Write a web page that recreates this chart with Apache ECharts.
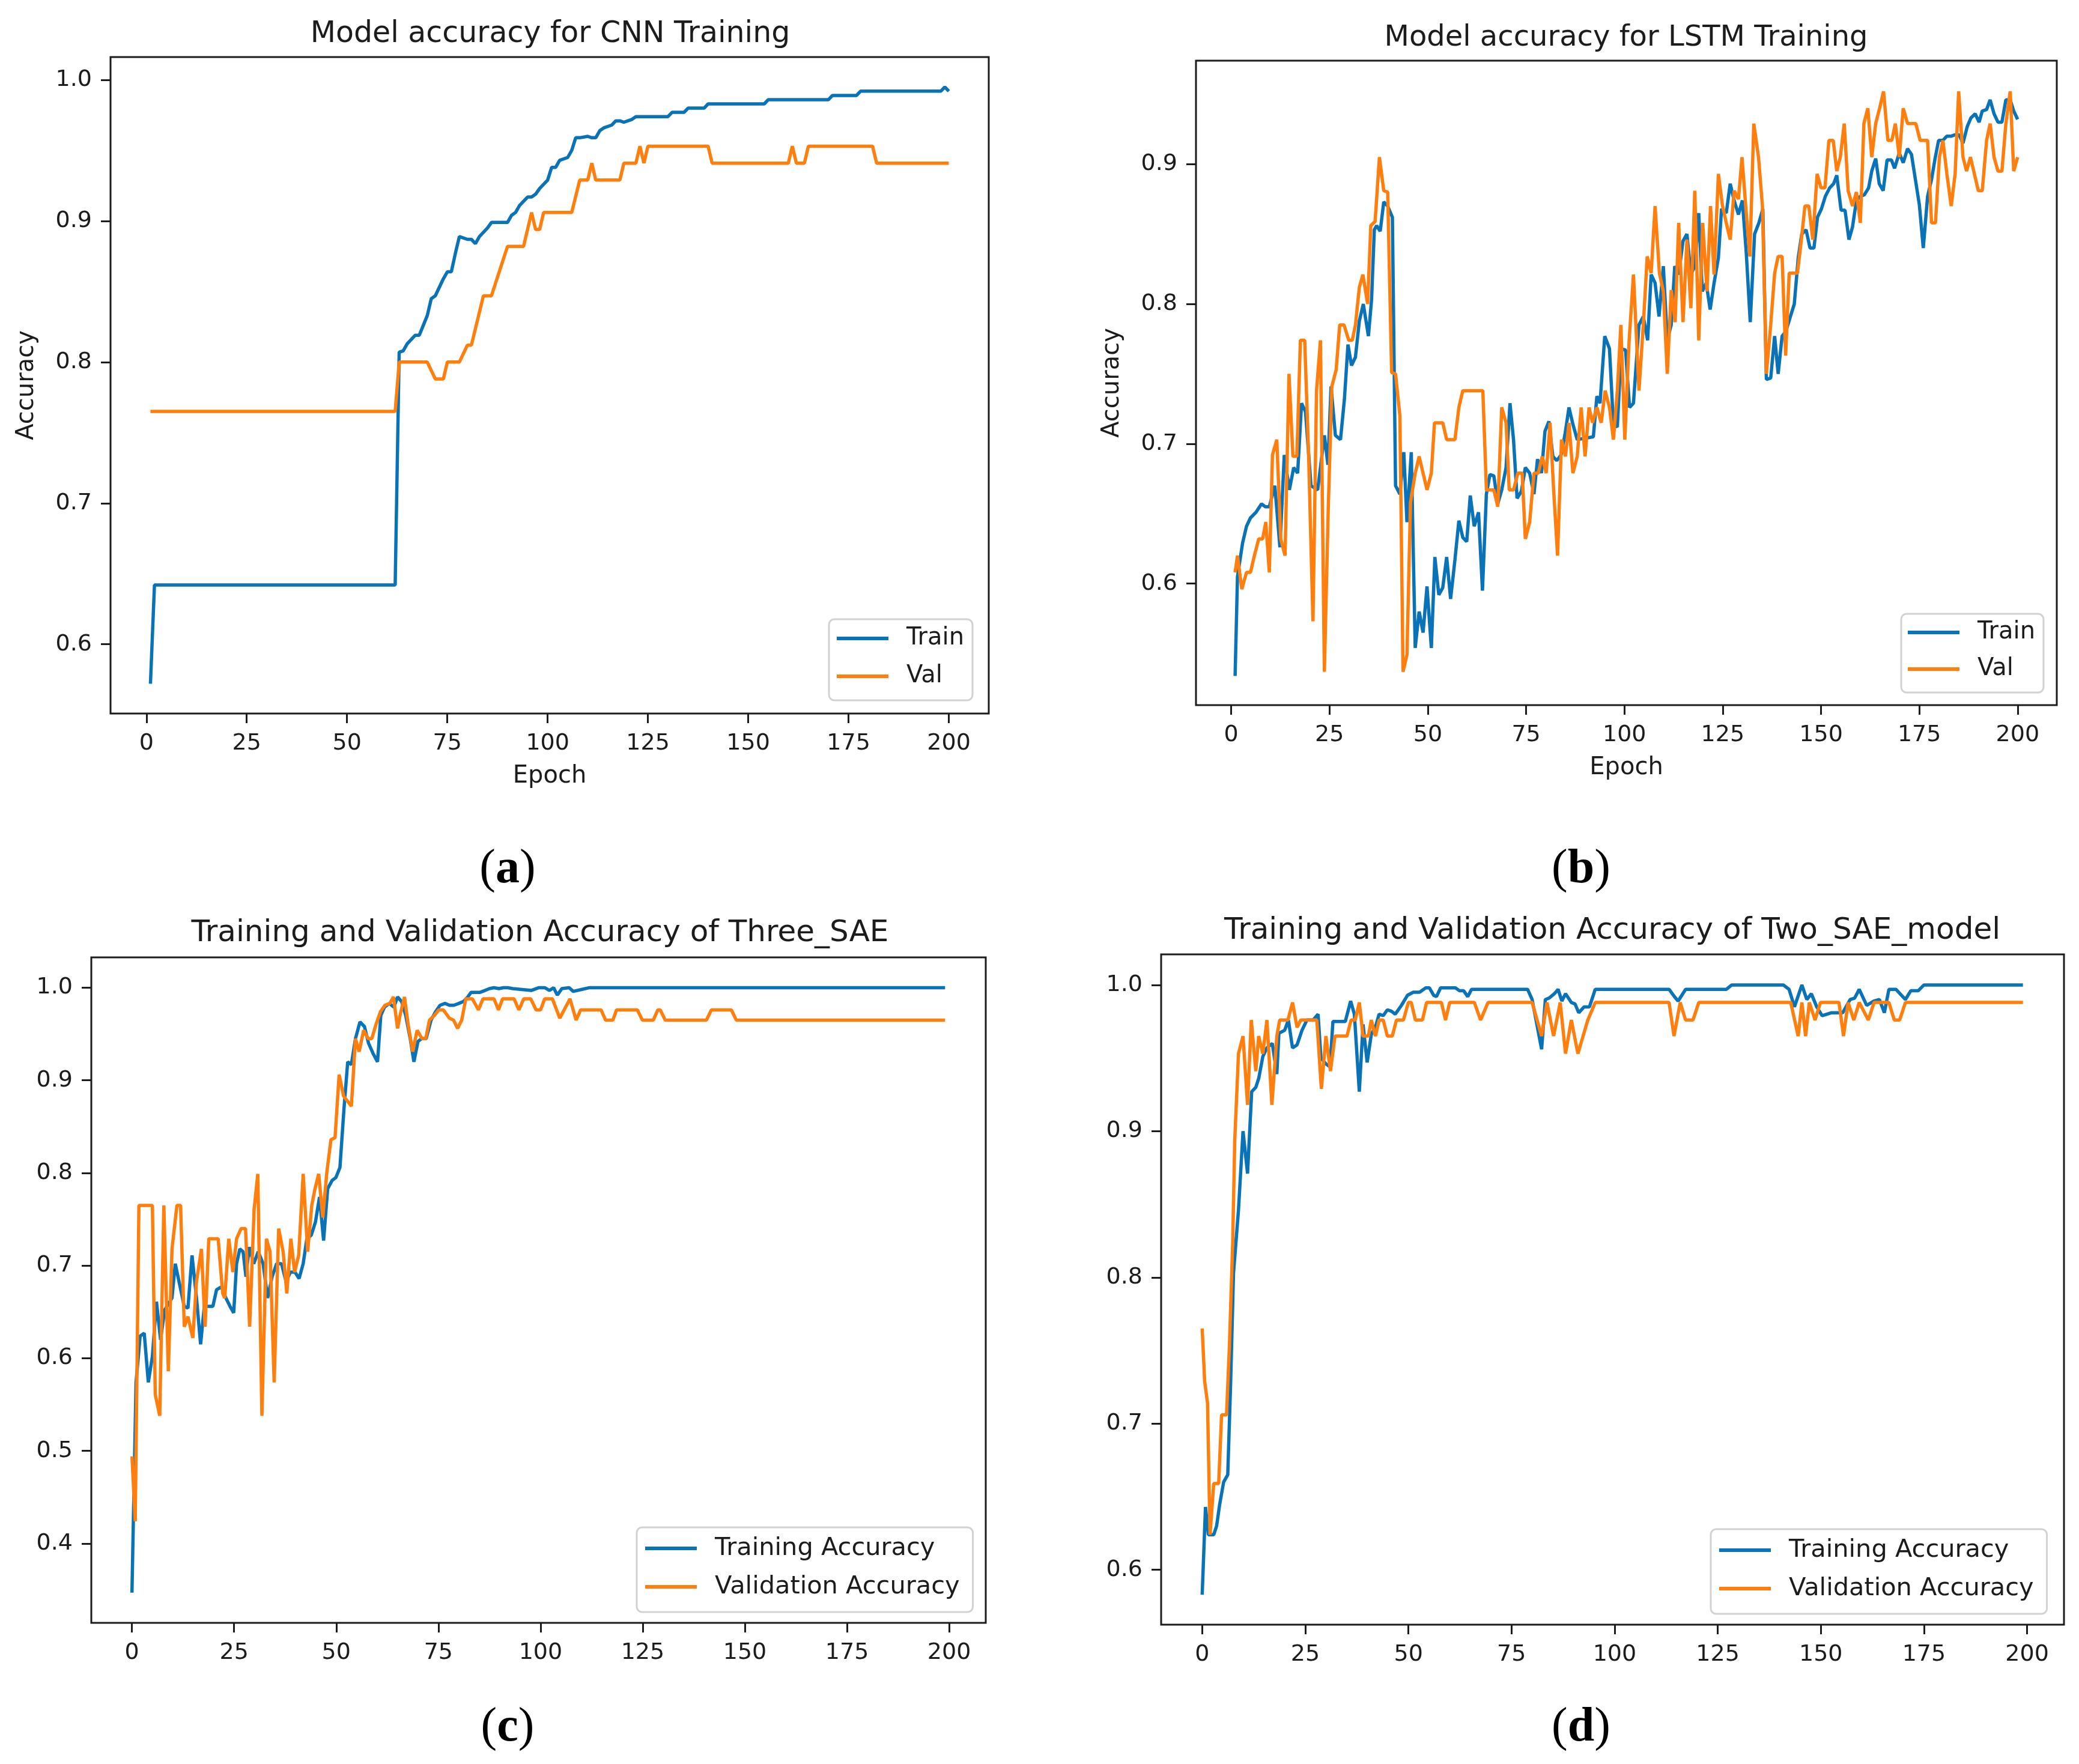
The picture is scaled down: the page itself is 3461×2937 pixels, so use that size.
<!DOCTYPE html>
<html><head><meta charset="utf-8">
<script src="https://cdn.jsdelivr.net/npm/echarts@6/dist/echarts.min.js"></script>
<style>html,body{margin:0;padding:0;background:#fff}#c{width:3461px;height:2937px}</style>
</head><body><div id="c"></div><script>
// ---------- tick labels ----------
const xTicks = [0,25,50,75,100,125,150,175,200];
const yTicksA = [0.6,0.7,0.8,0.9,1.0];
const yTicksB = [0.6,0.7,0.8,0.9];
const yTicksC = [0.4,0.5,0.6,0.7,0.8,0.9,1.0];
const yTicksD = [0.6,0.7,0.8,0.9,1.0];

// ---------- (a) CNN ----------
const cnnTrain = [[1,0.572],[2,0.642],[62,0.642],[63,0.807],[64,0.808],[65,0.813],[67,0.819],[68,0.819],[70,0.833],[71,0.845],[72,0.847],[74,0.859],[75,0.864],[76,0.864],[77,0.877],[78,0.889],[80,0.887],[81,0.887],[82,0.884],[83,0.889],[85,0.895],[86,0.899],[90,0.899],[91,0.904],[92,0.906],[93,0.911],[95,0.917],[96,0.917],[97,0.919],[98,0.923],[100,0.929],[101,0.938],[102,0.938],[103,0.943],[105,0.945],[106,0.950],[107,0.959],[108,0.959],[110,0.960],[111,0.959],[112,0.959],[113,0.964],[114,0.966],[116,0.968],[117,0.971],[118,0.971],[119,0.970],[121,0.972],[122,0.974],[130,0.974],[131,0.977],[134,0.977],[135,0.980],[139,0.980],[140,0.983],[154,0.983],[155,0.986],[170,0.986],[171,0.989],[177,0.989],[178,0.992],[198,0.992],[199,0.995],[200,0.992]];
const cnnVal = [[1,0.765],[62,0.765],[63,0.800],[70,0.800],[72,0.788],[74,0.788],[75,0.800],[78,0.800],[80,0.812],[81,0.812],[84,0.847],[86,0.847],[90,0.882],[94,0.882],[96,0.906],[97,0.894],[98,0.894],[99,0.906],[106,0.906],[108,0.929],[110,0.929],[111,0.941],[112,0.929],[118,0.929],[119,0.941],[122,0.941],[123,0.953],[124,0.941],[125,0.953],[140,0.953],[141,0.941],[160,0.941],[161,0.953],[162,0.941],[164,0.941],[165,0.953],[181,0.953],[182,0.941],[200,0.941]];

// ---------- (b) LSTM ----------
const lstmTrain = [[1,0.534],[1.6,0.605],[2.9,0.629],[3.9,0.641],[4.9,0.647],[6.3,0.651],[7.7,0.657],[8.7,0.655],[9.7,0.655],[11.1,0.670],[12.4,0.626],[13.5,0.692],[14.8,0.667],[15.9,0.683],[16.9,0.679],[17.9,0.729],[18.9,0.723],[20.3,0.670],[22.0,0.667],[23.7,0.706],[24.6,0.685],[25.4,0.741],[26.5,0.706],[27.8,0.703],[28.8,0.732],[29.7,0.771],[30.6,0.756],[31.6,0.762],[32.6,0.788],[33.6,0.800],[34.9,0.777],[35.7,0.803],[36.4,0.853],[37.0,0.856],[37.9,0.852],[38.8,0.873],[39.8,0.870],[41.0,0.862],[41.8,0.670],[42.9,0.664],[43.9,0.694],[44.7,0.644],[45.8,0.694],[46.8,0.554],[47.8,0.580],[48.8,0.565],[49.8,0.598],[50.9,0.554],[51.8,0.619],[52.8,0.592],[53.8,0.597],[54.8,0.619],[55.8,0.589],[56.9,0.617],[57.9,0.645],[58.9,0.633],[59.9,0.630],[60.8,0.663],[61.8,0.641],[62.9,0.651],[63.9,0.595],[64.9,0.664],[65.8,0.678],[66.8,0.677],[67.8,0.657],[68.8,0.667],[69.9,0.683],[70.9,0.729],[71.8,0.703],[72.7,0.661],[73.8,0.666],[74.8,0.683],[75.9,0.679],[77.0,0.664],[77.9,0.689],[78.9,0.679],[79.8,0.709],[80.8,0.716],[81.8,0.691],[82.8,0.688],[83.9,0.692],[84.9,0.707],[85.9,0.726],[86.9,0.714],[88.0,0.703],[92.1,0.705],[93.0,0.734],[93.8,0.729],[95.0,0.777],[96.2,0.768],[97.2,0.714],[98.2,0.712],[99.2,0.768],[100.3,0.767],[101.3,0.726],[102.3,0.729],[103.7,0.785],[104.8,0.791],[105.9,0.774],[106.8,0.821],[107.8,0.815],[108.8,0.791],[109.9,0.827],[110.9,0.774],[111.9,0.785],[112.8,0.827],[113.8,0.821],[114.9,0.845],[115.9,0.850],[116.9,0.821],[117.9,0.827],[118.9,0.865],[119.8,0.809],[120.8,0.815],[121.8,0.796],[122.8,0.815],[123.9,0.833],[124.7,0.868],[125.9,0.865],[126.9,0.886],[127.9,0.874],[129.0,0.864],[130.0,0.874],[131.0,0.836],[132.0,0.787],[133.1,0.850],[134.2,0.858],[135.2,0.868],[136.1,0.746],[137.2,0.747],[138.2,0.777],[139.1,0.750],[140.1,0.777],[141.0,0.780],[142.1,0.790],[143.2,0.800],[144.2,0.833],[145.1,0.850],[146.2,0.853],[147.2,0.840],[148.2,0.840],[149.1,0.862],[150.1,0.868],[151.1,0.877],[152.2,0.883],[153.2,0.886],[154.0,0.892],[155.1,0.867],[156.1,0.867],[157.1,0.846],[158.0,0.855],[159.0,0.874],[160.0,0.877],[161.0,0.878],[162.1,0.883],[162.9,0.895],[163.9,0.904],[164.8,0.886],[165.8,0.881],[166.8,0.903],[167.9,0.903],[168.7,0.897],[169.9,0.908],[170.9,0.901],[172.0,0.911],[173.0,0.907],[174.0,0.889],[175.0,0.871],[176.0,0.840],[177.1,0.877],[178.1,0.889],[179.0,0.904],[179.9,0.917],[181.0,0.917],[182.0,0.920],[183.1,0.920],[184.1,0.921],[185.1,0.921],[186.1,0.915],[187.2,0.927],[188.1,0.933],[189.2,0.936],[190.2,0.930],[191.0,0.938],[192.1,0.939],[193.0,0.946],[194.0,0.936],[195.0,0.930],[196.0,0.930],[197.0,0.946],[198.1,0.946],[199.0,0.938],[200,0.932]];
const lstmVal = [[1,0.608],[1.6,0.620],[2.7,0.596],[3.9,0.608],[4.9,0.608],[5.9,0.620],[7.0,0.632],[8.0,0.632],[8.8,0.644],[9.7,0.608],[10.5,0.692],[11.6,0.703],[12.6,0.632],[13.7,0.620],[14.7,0.750],[15.7,0.691],[16.7,0.691],[17.6,0.774],[18.7,0.774],[19.7,0.691],[20.8,0.573],[21.7,0.738],[22.7,0.774],[23.7,0.537],[24.7,0.655],[25.6,0.741],[26.7,0.753],[27.6,0.785],[28.7,0.785],[29.9,0.774],[30.8,0.774],[31.6,0.785],[32.6,0.812],[33.5,0.821],[34.7,0.800],[35.5,0.856],[36.6,0.859],[37.7,0.905],[38.8,0.881],[39.8,0.880],[40.8,0.751],[41.8,0.750],[42.9,0.720],[43.7,0.537],[44.7,0.549],[45.6,0.658],[46.8,0.679],[47.8,0.691],[48.8,0.679],[49.8,0.667],[50.9,0.679],[51.7,0.715],[53.8,0.715],[54.8,0.703],[56.9,0.703],[57.9,0.726],[58.9,0.738],[64.0,0.738],[64.9,0.667],[66.8,0.667],[67.8,0.655],[68.8,0.726],[69.9,0.715],[70.7,0.667],[71.8,0.667],[72.9,0.679],[74.0,0.679],[74.8,0.632],[75.9,0.644],[77.0,0.679],[78.1,0.679],[79.1,0.691],[80.1,0.679],[81.1,0.715],[82.0,0.667],[83.0,0.620],[84.0,0.703],[85.0,0.691],[85.9,0.715],[86.9,0.679],[88.0,0.691],[89.0,0.726],[90.0,0.691],[91.0,0.726],[91.9,0.715],[93.0,0.726],[94.1,0.715],[95.1,0.738],[96.2,0.726],[97.2,0.703],[98.2,0.738],[99.1,0.785],[100.1,0.703],[101.2,0.774],[102.3,0.821],[103.7,0.738],[104.8,0.785],[105.8,0.834],[106.8,0.822],[107.8,0.870],[108.9,0.822],[109.9,0.809],[110.9,0.750],[111.9,0.810],[112.9,0.787],[113.8,0.858],[114.9,0.787],[115.9,0.846],[116.9,0.797],[117.9,0.881],[118.9,0.774],[119.9,0.858],[121.0,0.809],[121.9,0.870],[122.8,0.821],[123.9,0.893],[124.9,0.871],[125.9,0.858],[126.9,0.846],[127.9,0.881],[129.0,0.875],[129.9,0.905],[130.9,0.868],[131.9,0.834],[132.9,0.929],[134.1,0.905],[135.1,0.870],[136.1,0.750],[137.2,0.785],[138.2,0.822],[139.1,0.834],[140.1,0.834],[141.0,0.763],[141.9,0.822],[144.0,0.822],[145.0,0.846],[145.9,0.870],[146.9,0.870],[147.9,0.846],[149.0,0.893],[150.0,0.883],[151.0,0.883],[152.0,0.917],[153.1,0.917],[154.0,0.895],[154.9,0.905],[155.9,0.929],[156.9,0.881],[158.0,0.870],[159.0,0.880],[160.0,0.858],[160.9,0.929],[161.9,0.940],[162.9,0.905],[163.9,0.929],[164.9,0.940],[165.9,0.952],[167.0,0.917],[168.0,0.917],[168.9,0.929],[169.9,0.905],[170.9,0.940],[172.0,0.929],[174.1,0.929],[175.2,0.917],[177.1,0.917],[178.1,0.858],[179.1,0.858],[180.1,0.905],[181.0,0.917],[182.0,0.893],[183.1,0.870],[184.1,0.893],[185.0,0.952],[186.1,0.905],[187.0,0.895],[188.0,0.905],[189.0,0.893],[190.0,0.881],[191.0,0.881],[192.1,0.917],[193.0,0.929],[194.0,0.905],[195.0,0.895],[196.0,0.895],[197.0,0.929],[198.1,0.952],[199.0,0.895],[200,0.905]];

// ---------- (c) Three_SAE ----------
const sae3Train = [[0,0.347],[1,0.574],[2,0.624],[3,0.627],[4,0.574],[5,0.602],[6,0.661],[7,0.620],[8,0.652],[9.8,0.665],[10.6,0.702],[11.7,0.679],[12.8,0.656],[13.7,0.654],[14.7,0.711],[15.8,0.665],[16.8,0.615],[17.7,0.656],[18.9,0.656],[19.8,0.656],[20.7,0.674],[21.9,0.677],[23,0.665],[24,0.656],[24.9,0.649],[25.6,0.702],[26.4,0.718],[27.2,0.715],[27.9,0.688],[28.7,0.720],[29.8,0.702],[30.9,0.715],[32.1,0.702],[33.2,0.665],[34.3,0.688],[35.4,0.702],[36.6,0.702],[37.7,0.683],[38.8,0.693],[39.9,0.693],[40.9,0.686],[41.9,0.702],[42.8,0.729],[43.9,0.733],[44.9,0.747],[45.9,0.774],[46.9,0.727],[47.9,0.783],[49,0.792],[49.9,0.795],[50.9,0.806],[51.9,0.870],[52.8,0.920],[53.7,0.917],[54.7,0.945],[55.8,0.963],[56.9,0.958],[57.9,0.940],[59,0.929],[60.1,0.920],[60.9,0.970],[61.8,0.979],[63,0.983],[64.1,0.979],[65,0.990],[66,0.985],[67,0.970],[68.1,0.945],[69,0.920],[70,0.942],[70.9,0.945],[72,0.945],[73.2,0.965],[74.3,0.974],[75.4,0.981],[76.6,0.983],[77.7,0.981],[78.8,0.981],[80,0.983],[81.1,0.985],[82.2,0.990],[83,0.995],[85.2,0.995],[86.4,0.997],[87.5,0.999],[88.6,1.0],[89.8,0.999],[90.9,1.0],[92,1.0],[93.2,0.999],[97.7,0.997],[99.6,1.0],[101,1.0],[102.2,0.997],[103.2,1.0],[104.1,0.992],[105.2,0.999],[107,1.0],[108,0.996],[110,0.998],[112,1.0],[199,1.0]];
const sae3Val = [[0,0.494],[0.8,0.424],[1.7,0.765],[5.0,0.765],[5.7,0.561],[6.8,0.538],[7.8,0.765],[8.9,0.586],[9.8,0.718],[11.0,0.765],[11.9,0.765],[12.8,0.634],[13.7,0.645],[14.9,0.622],[15.8,0.683],[17.0,0.718],[17.9,0.634],[18.8,0.729],[21.1,0.729],[22.2,0.670],[22.7,0.665],[23.7,0.729],[24.7,0.693],[25.6,0.729],[26.7,0.740],[27.8,0.740],[28.8,0.634],[29.9,0.761],[30.8,0.799],[31.8,0.538],[32.9,0.729],[33.8,0.715],[34.8,0.574],[35.9,0.740],[37.0,0.715],[37.9,0.670],[38.9,0.729],[39.8,0.693],[40.8,0.711],[41.9,0.799],[43.0,0.715],[44.0,0.765],[44.7,0.781],[45.7,0.799],[46.7,0.752],[47.7,0.801],[48.7,0.836],[49.7,0.838],[50.7,0.906],[51.8,0.883],[53.7,0.872],[54.7,0.945],[55.6,0.931],[56.7,0.954],[57.8,0.945],[58.7,0.945],[59.7,0.960],[60.8,0.974],[61.9,0.981],[63.1,0.983],[64.0,0.990],[65.0,0.956],[65.7,0.972],[66.7,0.990],[67.6,0.960],[68.7,0.931],[69.8,0.954],[71.0,0.945],[71.9,0.945],[72.8,0.965],[74.0,0.970],[75.1,0.976],[76.2,0.976],[77.7,0.967],[78.7,0.965],[79.7,0.956],[80.7,0.965],[81.7,0.988],[83.3,0.988],[84.8,0.976],[85.9,0.988],[88.6,0.988],[89.7,0.976],[90.7,0.988],[93.5,0.988],[94.7,0.976],[95.9,0.988],[97.6,0.988],[98.9,0.976],[100.0,0.976],[101.0,0.988],[102.9,0.988],[104.7,0.967],[107.2,0.988],[108.7,0.965],[109.8,0.976],[114.8,0.976],[115.9,0.965],[117.7,0.965],[118.6,0.976],[123.7,0.976],[124.9,0.965],[127.6,0.965],[128.7,0.976],[129.3,0.976],[130.5,0.965],[140.6,0.965],[141.8,0.976],[146.7,0.976],[147.9,0.965],[199,0.965]];

// ---------- (d) Two_SAE_model ----------
const sae2Train = [[0,0.583],[0.8,0.643],[1.5,0.624],[2.8,0.624],[3.5,0.630],[4.2,0.644],[5.2,0.660],[6.2,0.665],[6.9,0.728],[7.6,0.803],[8.8,0.846],[9.9,0.900],[11.0,0.871],[12.0,0.927],[13.0,0.930],[13.7,0.936],[14.7,0.951],[15.7,0.957],[17.0,0.960],[18.1,0.939],[18.6,0.967],[20.0,0.969],[20.9,0.976],[21.9,0.957],[23.0,0.959],[24.2,0.969],[25.4,0.976],[26.9,0.976],[28.1,0.980],[28.8,0.950],[30.0,0.946],[31.0,0.944],[31.7,0.975],[34.7,0.975],[36.0,0.989],[36.9,0.980],[38.1,0.927],[39.0,0.973],[40.0,0.947],[41.0,0.966],[42.2,0.973],[42.9,0.980],[43.9,0.979],[44.9,0.983],[45.9,0.982],[46.8,0.980],[48.3,0.986],[49.8,0.993],[51.2,0.995],[52.7,0.995],[54.2,0.998],[55.1,0.998],[56.1,0.993],[56.8,0.992],[57.8,0.998],[61.4,0.998],[62.4,0.996],[63.4,0.996],[64.4,0.992],[65.3,0.997],[78.9,0.997],[80.0,0.990],[82.3,0.956],[83.2,0.990],[84.1,0.991],[85.4,0.994],[86.3,0.997],[87.2,0.989],[88.1,0.994],[89.5,0.988],[90.4,0.987],[91.3,0.981],[92.6,0.985],[93.9,0.985],[95.3,0.997],[113.2,0.997],[114.5,0.992],[115.4,0.989],[117.2,0.997],[127.1,0.997],[128.4,1.0],[140.9,1.0],[142.3,0.997],[143.6,0.985],[145.4,1.0],[146.6,0.990],[147.7,0.994],[149.0,0.985],[150.3,0.979],[152.6,0.981],[155.3,0.981],[157.1,0.990],[158.2,0.991],[159.3,0.997],[161.1,0.986],[162.9,0.989],[164.2,0.990],[165.4,0.981],[166.5,0.997],[168.2,0.997],[170.5,0.990],[171.8,0.996],[173.6,0.996],[175.0,1.0],[199,1.0]];
const sae2Val = [[0,0.765],[0.6,0.729],[1.3,0.714],[1.9,0.624],[2.8,0.659],[4.0,0.659],[4.7,0.706],[5.9,0.706],[6.6,0.753],[7.4,0.824],[7.9,0.894],[8.8,0.953],[9.9,0.965],[11.0,0.918],[11.9,0.976],[13.0,0.941],[13.7,0.965],[14.7,0.953],[15.7,0.976],[16.9,0.918],[18.1,0.965],[18.8,0.976],[20.8,0.976],[21.9,0.988],[23.0,0.971],[23.9,0.976],[27.8,0.976],[28.9,0.929],[30.0,0.965],[31.1,0.941],[32.2,0.965],[35.1,0.965],[36.1,0.976],[37.1,0.976],[38.1,0.988],[39.0,0.965],[40.3,0.965],[41.0,0.976],[42.0,0.965],[42.9,0.976],[43.9,0.976],[44.9,0.965],[46.1,0.965],[47.1,0.976],[48.8,0.976],[50.0,0.988],[50.7,0.988],[51.7,0.976],[53.4,0.976],[54.4,0.988],[58.0,0.988],[59.0,0.976],[60.0,0.988],[66.0,0.988],[67.5,0.976],[69.3,0.988],[80.0,0.988],[82.3,0.965],[83.6,0.988],[85.2,0.965],[86.8,0.988],[88.1,0.953],[89.5,0.976],[91.1,0.953],[93.5,0.976],[95.3,0.988],[113.2,0.988],[114.4,0.965],[115.9,0.988],[117.2,0.976],[119.0,0.976],[120.4,0.988],[142.7,0.988],[144.5,0.965],[145.4,0.988],[146.3,0.965],[147.2,0.988],[148.6,0.976],[149.9,0.988],[154.4,0.988],[155.5,0.965],[156.6,0.988],[158.0,0.976],[159.3,0.988],[161.5,0.976],[162.9,0.988],[166.5,0.988],[167.8,0.976],[169.1,0.976],[170.5,0.988],[199,0.988]];

// ---------- layout & styling ----------
const BLUE = '#0a72b6', ORANGE = '#ff7f0e', INK = '#1c1c1c';
const FONT = 'DejaVu Sans';
const panels = [
  {grid:{left:184,top:95,width:1462,height:1093}, x:[-8.95,209.95], y:[0.5509,1.0162], yTicks:yTicksA,
   title:'Model accuracy for CNN Training', titleSize:49, tx:916, ty:33, tag:'a', tagX:845, tagY:1408,
   train:cnnTrain, val:cnnVal, names:['Train','Val'], yName:'Accuracy', xName:'Epoch', legendSize:40,
   legend:{left:1380, top:1031, padding:[12,14,20,13], itemGap:23}},
  {grid:{left:1991,top:101,width:1433,height:1073}, x:[-8.95,209.95], y:[0.5131,0.9740], yTicks:yTicksB,
   title:'Model accuracy for LSTM Training', titleSize:48, tx:2707, ty:40, tag:'b', tagX:2632, tagY:1408,
   train:lstmTrain, val:lstmVal, names:['Train','Val'], yName:'Accuracy', xName:'Epoch', legendSize:40,
   legend:{left:3165, top:1022, padding:[11,14,19,11], itemGap:21}},
  {grid:{left:152,top:1594,width:1489,height:1108}, x:[-9.95,208.95], y:[0.3144,1.0327], yTicks:yTicksC,
   title:'Training and Validation Accuracy of Three_SAE', titleSize:50, tx:899, ty:1529, tag:'c', tagX:845, tagY:2837,
   train:sae3Train, val:sae3Val, names:['Training Accuracy','Validation Accuracy'], legendSize:41.5,
   legend:{left:1060, top:2543, padding:[14,22,21,14], itemGap:22}},
  {grid:{left:1933,top:1589,width:1503,height:1116}, x:[-9.95,208.95], y:[0.5625,1.0209], yTicks:yTicksD,
   title:'Training and Validation Accuracy of Two_SAE_model', titleSize:50, tx:2684, ty:1525, tag:'d', tagX:2632, tagY:2837,
   train:sae2Train, val:sae2Val, names:['Training Accuracy','Validation Accuracy'], legendSize:41.5,
   legend:{left:2848, top:2546, padding:[14,22,21,14], itemGap:22}}
];

const option = {backgroundColor:'#fff', animation:false, grid:[], xAxis:[], yAxis:[], series:[], title:[], legend:[]};
panels.forEach((p,i)=>{
  option.grid.push(Object.assign({show:true, borderColor:INK, borderWidth:3, backgroundColor:'transparent', containLabel:false, outerBoundsMode:'none'}, p.grid));
  option.xAxis.push({type:'value', gridIndex:i, min:p.x[0], max:p.x[1],
    axisLine:{show:false, onZero:false}, splitLine:{show:false},
    axisTick:{show:true, customValues:xTicks, length:16, inside:false, lineStyle:{color:INK,width:3}},
    axisLabel:{customValues:xTicks, fontFamily:FONT, fontSize:38, color:INK, margin:31, formatter:v=>String(v)},
    name:p.xName||'', nameLocation:'middle', nameGap:85, nameTextStyle:{fontFamily:FONT,fontSize:40,color:INK}});
  option.yAxis.push({type:'value', gridIndex:i, min:p.y[0], max:p.y[1],
    axisLine:{show:false, onZero:false}, splitLine:{show:false},
    axisTick:{show:true, customValues:p.yTicks, length:16, inside:false, lineStyle:{color:INK,width:3}},
    axisLabel:{customValues:p.yTicks, fontFamily:FONT, fontSize:38, color:INK, margin:31, formatter:v=>v.toFixed(1)},
    name:p.yName||'', nameLocation:'middle', nameGap:119, nameRotate:90, nameTextStyle:{fontFamily:FONT,fontSize:40,color:INK}});
  option.series.push({type:'line', name:p.names[0], xAxisIndex:i, yAxisIndex:i, data:p.train, symbol:'none', showSymbol:false, color:BLUE, lineStyle:{color:BLUE,width:5.5}, z:2});
  option.series.push({type:'line', name:p.names[1], xAxisIndex:i, yAxisIndex:i, data:p.val, symbol:'none', showSymbol:false, color:ORANGE, lineStyle:{color:ORANGE,width:5.5}, z:3});
  option.title.push({text:p.title, left:p.tx, top:p.ty, textAlign:'center', padding:0,
    textStyle:{fontFamily:FONT, fontSize:p.titleSize, fontWeight:'normal', color:INK}});
  option.title.push({text:'({b|'+p.tag+'})', left:p.tagX, top:p.tagY, textAlign:'center', padding:0,
    textStyle:{fontFamily:'Liberation Serif', fontSize:80, fontWeight:'normal', color:'#000',
      rich:{b:{fontFamily:'Liberation Serif', fontSize:80, fontWeight:'bold', color:'#000'}}}});
  option.legend.push({data:p.names.map(n=>({name:n, icon:'rect'})), orient:'vertical', left:p.legend.left, top:p.legend.top,
    padding:p.legend.padding, itemGap:p.legend.itemGap, itemWidth:86, itemHeight:6,
    backgroundColor:'rgba(255,255,255,0.85)', borderColor:'#d2d2d2', borderWidth:3, borderRadius:9,
    textStyle:{fontFamily:FONT, fontSize:p.legendSize, color:INK, padding:[0,0,0,25]}, selectedMode:false});
});

const chart = echarts.init(document.getElementById('c'), null, {renderer:'canvas', width:3461, height:2937});
chart.setOption(option);
</script></body></html>
